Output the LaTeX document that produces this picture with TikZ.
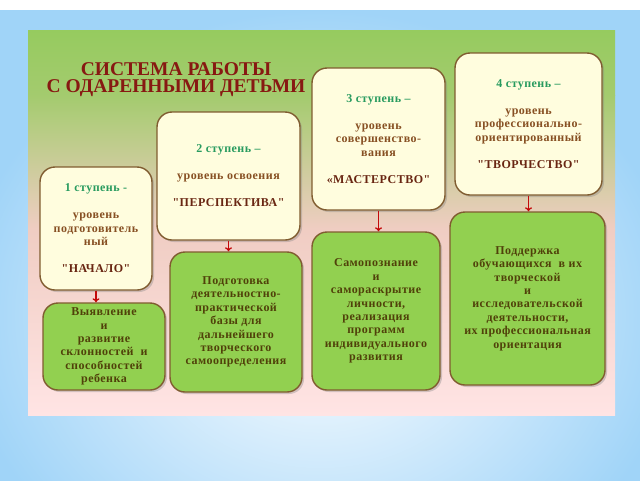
\documentclass[tikz,border=0pt]{standalone}
\usepackage{fontspec}
\setmainfont{Liberation Serif}
\newfontfamily\boxfont{Liberation Serif}[LetterSpace=4]
\usetikzlibrary{arrows.meta,shadows}
\definecolor{skyblue}{RGB}{160,212,248}
\definecolor{topgreen}{RGB}{150,203,95}
\definecolor{midpink}{RGB}{240,205,195}
\definecolor{lowpink}{RGB}{255,228,228}
\definecolor{creamfill}{RGB}{255,253,222}
\definecolor{leafgreen}{RGB}{146,208,80}
\definecolor{frame}{RGB}{128,92,48}
\definecolor{stepgreen}{RGB}{40,155,95}
\definecolor{levelbrown}{RGB}{135,80,35}
\definecolor{namebrown}{RGB}{105,38,18}
\definecolor{olivetext}{RGB}{80,65,10}
\definecolor{titlered}{RGB}{135,25,18}
\newcommand{\stp}[1]{\textcolor{stepgreen}{#1}}
\newcommand{\nm}[1]{\textcolor{namebrown}{#1}}
\begin{document}
\begin{tikzpicture}[x=1pt,y=-1pt,
    stage/.style={draw=frame, line width=1.4pt, fill=creamfill, rounded corners=15pt,
      inner sep=0pt, align=center, text=levelbrown,
      font=\boxfont\bfseries\fontsize{12}{13.5}\selectfont,
      drop shadow={opacity=0.35, shadow xshift=2pt, shadow yshift=-2pt}},
    task/.style={draw=frame, line width=1.4pt, fill=leafgreen, rounded corners=15pt,
      inner sep=0pt, align=center, text=olivetext,
      font=\boxfont\bfseries\fontsize{12}{13.4}\selectfont,
      drop shadow={opacity=0.35, shadow xshift=2pt, shadow yshift=-2pt}},
    down/.style={draw={rgb,255:red,195;green,10;blue,10}, line width=1.3pt,
      -{To[length=4pt,width=7pt]}}]
  \useasboundingbox (0,0) rectangle (640,480);
  % background
  \begin{scope}
    \clip (0,0) rectangle (640,480);
    \shade[inner color=white, outer color=skyblue] (-40,10) rectangle (680,620);
  \end{scope}
  \shade[top color=topgreen, bottom color=topgreen!85!midpink] (28,30) rectangle (615,95);
  \shade[top color=topgreen!85!midpink, bottom color=midpink] (28,95) rectangle (615,230);
  \shade[top color=midpink, bottom color=lowpink] (28,230) rectangle (615,415);
  \node[text=titlered, align=center, font=\bfseries\fontsize{19.5}{17.5}\selectfont]
    (title) at (176,79.5) {СИСТЕМА РАБОТЫ\\С ОДАРЕННЫМИ ДЕТЬМИ};
  % stages
  \node[stage, minimum width=112pt, minimum height=123pt] (s1) at (96,228.5)
    {\stp{1 ступень -}\\[13.5pt] уровень\\ подготовитель\\ ный\\[13.5pt] \nm{"НАЧАЛО"}};
  \node[stage, minimum width=143pt, minimum height=128pt] (s2) at (228.5,176)
    {\stp{2 ступень –}\\[13.5pt] уровень освоения\\[13.5pt] \nm{"ПЕРСПЕКТИВА"}};
  \node[stage, minimum width=133pt, minimum height=142pt] (s3) at (378.5,139)
    {\stp{3 ступень –}\\[13.5pt] уровень\\ совершенство-\\ вания\\[13.5pt] \nm{«МАСТЕРСТВО"}};
  \node[stage, minimum width=147pt, minimum height=142pt] (s4) at (528.5,124)
    {\stp{4 ступень –}\\[13.5pt] уровень\\ профессионально-\\ ориентированный\\[13.5pt] \nm{"ТВОРЧЕСТВО"}};
  % tasks
  \node[task, minimum width=122pt, minimum height=87pt] (t1) at (104,346.5)
    {Выявление\\ и\\ развитие\\ склонностей~ и\\ способностей\\ ребенка};
  \node[task, minimum width=132pt, minimum height=140pt] (t2) at (236,322)
    {Подготовка\\ деятельностно-\\ практической\\ базы для\\ дальнейшего\\ творческого\\ самоопределения};
  \node[task, minimum width=128pt, minimum height=158pt] (t3) at (376,311)
    {Самопознание\\ и\\ самораскрытие\\ личности,\\ реализация\\ программ\\ индивидуального\\ развития};
  \node[task, minimum width=155pt, minimum height=173pt] (t4) at (527.5,298.5)
    {Поддержка\\ обучающихся~ в их\\ творческой\\ и\\ исследовательской\\ деятельности,\\ их профессиональная\\ ориентация};
  \begin{scope}[down]
    \draw (s1.south) -- (s1.south |- t1.north);
    \draw (s2.south) -- (s2.south |- t2.north);
    \draw (s3.south) -- (s3.south |- t3.north);
    \draw (s4.south) -- (s4.south |- t4.north);
  \end{scope}
\end{tikzpicture}
\end{document}
